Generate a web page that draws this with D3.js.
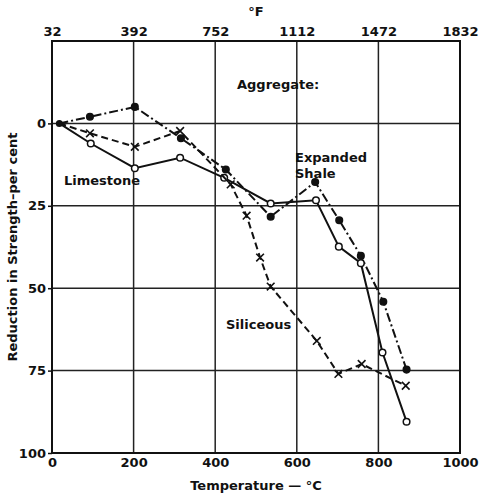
<!DOCTYPE html>
<html>
<head>
<meta charset="utf-8">
<script src="https://cdn.jsdelivr.net/npm/d3@7"></script>
<style>
  body { margin: 0; background: #fff; }
  text { font-family: "DejaVu Sans", sans-serif; fill: #111; }
</style>
</head>
<body>
<script>
//Width and height
var w = 481;
var h = 496;
var margin = {top: 41, right: 21, bottom: 43, left: 52};

//data: temperature in deg C, reduction in strength in per cent
var shaleTemp = [18, 93, 203, 316, 426, 536, 645, 704, 757, 812, 869];
var shaleLoss = [0, -2, -5, 4.5, 14, 28.3, 17.8, 29.4, 40.2, 54.1, 74.7];

var limeTemp = [18, 95, 203, 314, 422, 536, 647, 703, 757, 810, 869];
var limeLoss = [0, 6.1, 13.6, 10.4, 16.5, 24.3, 23.3, 37.4, 42.4, 69.5, 90.5];

var silTemp = [18, 93, 203, 314, 438, 477, 510, 536, 649, 702, 759, 867];
var silLoss = [0, 3, 7.1, 2.3, 18.5, 28, 40.7, 49.5, 66, 76, 73, 79.6];

//tick labels
var cTicks = [0, 200, 400, 600, 800, 1000];
var fTicks = [32, 392, 752, 1112, 1472, 1832];
var yTicks = [0, 25, 50, 75, 100];
var yGrid = [0, 25, 50, 75];

//Create SVG element
var svg = d3.select("body")
			.append("svg")
			.attr("width", w)
			.attr("height", h);

var x = d3.scaleLinear().domain([0, 1000]).range([margin.left, w - margin.right]);
var xF = d3.scaleLinear().domain([32, 1832]).range([margin.left, w - margin.right]);
var y = d3.scaleLinear().domain([-25, 100]).range([margin.top, h - margin.bottom]);

//grid lines
svg.append("g").selectAll("line")
   .data(cTicks.slice(1, 5))
   .enter().append("line")
   .attr("x1", d => x(d)).attr("x2", d => x(d))
   .attr("y1", y(-25)).attr("y2", y(100))
   .attr("stroke", "#222").attr("stroke-width", 1.5);

svg.append("g").selectAll("line")
   .data(yGrid)
   .enter().append("line")
   .attr("x1", x(0)).attr("x2", x(1000))
   .attr("y1", d => y(d)).attr("y2", d => y(d))
   .attr("stroke", "#222").attr("stroke-width", 1.5);

//frame
svg.append("rect")
   .attr("x", x(0)).attr("y", y(-25))
   .attr("width", x(1000) - x(0)).attr("height", y(100) - y(-25))
   .attr("fill", "none").attr("stroke", "#111").attr("stroke-width", 2);

//axes
function styleAxis(g) {
    g.select(".domain").remove();
    g.selectAll("line").attr("stroke", "#111").attr("stroke-width", 1.5);
    g.selectAll("text").style("font-size", "13px").style("font-weight", "bold")
     .style("font-family", "DejaVu Sans, sans-serif");
}

var fmt = d3.format("d");

svg.append("g")
   .attr("transform", "translate(0," + y(100) + ")")
   .call(d3.axisBottom(x).tickValues(cTicks).tickFormat(fmt).tickSize(0).tickPadding(5))
   .call(styleAxis);

svg.append("g")
   .attr("transform", "translate(0," + y(-25) + ")")
   .call(d3.axisTop(xF).tickValues(fTicks).tickFormat(fmt).tickSize(0).tickPadding(5))
   .call(styleAxis);

svg.append("g")
   .attr("transform", "translate(" + x(0) + ",0)")
   .call(d3.axisLeft(y).tickValues(yTicks).tickFormat(fmt).tickSize(4).tickPadding(2))
   .call(styleAxis);

//axis titles
svg.append("text")
   .attr("x", (x(0) + x(1000)) / 2).attr("y", 490)
   .attr("text-anchor", "middle")
   .style("font-size", "13px").style("font-weight", "bold")
   .text("Temperature — °C");

svg.append("text")
   .attr("x", 256).attr("y", 16)
   .attr("text-anchor", "middle")
   .style("font-size", "13px").style("font-weight", "bold")
   .text("°F");

svg.append("text")
   .attr("transform", "translate(17," + y(37.5) + ") rotate(-90)")
   .attr("text-anchor", "middle")
   .style("font-size", "13px").style("font-weight", "bold")
   .text("Reduction in Strength–per cent");

//series
var series = [
    {temp: shaleTemp, loss: shaleLoss, dash: "9,3,2,3", mark: "filled"},
    {temp: limeTemp, loss: limeLoss, dash: null, mark: "open"},
    {temp: silTemp, loss: silLoss, dash: "7,4", mark: "cross"}
];

var line = d3.line()
			 .x(d => x(d[0]))
			 .y(d => y(d[1]));

series.forEach(function(s) {
    var pts = s.temp.map((t, i) => [t, s.loss[i]]);
    svg.append("path")
       .datum(pts)
       .attr("d", line)
       .attr("fill", "none")
       .attr("stroke", "#111")
       .attr("stroke-width", 2)
       .attr("stroke-dasharray", s.dash);

    var g = svg.append("g");
    if (s.mark == "cross") {
        g.selectAll("path")
         .data(pts.slice(1))
         .enter().append("path")
         .attr("d", d3.symbol().type(d3.symbolX).size(40))
         .attr("transform", d => "translate(" + x(d[0]) + "," + y(d[1]) + ")")
         .attr("stroke", "#111").attr("stroke-width", 1.6);
    } else {
        g.selectAll("circle")
         .data(pts.slice(1))
         .enter().append("circle")
         .attr("cx", d => x(d[0])).attr("cy", d => y(d[1]))
         .attr("r", 3.3)
         .attr("fill", s.mark == "filled" ? "#111" : "#fff")
         .attr("stroke", "#111").attr("stroke-width", 1.5);
    }
});

//start point shared by all series
svg.append("circle")
   .attr("cx", x(18)).attr("cy", y(0)).attr("r", 3.5)
   .attr("fill", "#111");

//labels inside plot
var labels = [
    {t: "Aggregate:", x: 237, y: 89},
    {t: "Expanded", x: 295, y: 162},
    {t: "Shale", x: 295, y: 178},
    {t: "Limestone", x: 64, y: 185},
    {t: "Siliceous", x: 226, y: 329}
];
svg.append("g").selectAll("text")
   .data(labels)
   .enter().append("text")
   .attr("x", d => d.x).attr("y", d => d.y)
   .style("font-size", "13px").style("font-weight", "bold")
   .text(d => d.t);
</script>
</body>
</html>
